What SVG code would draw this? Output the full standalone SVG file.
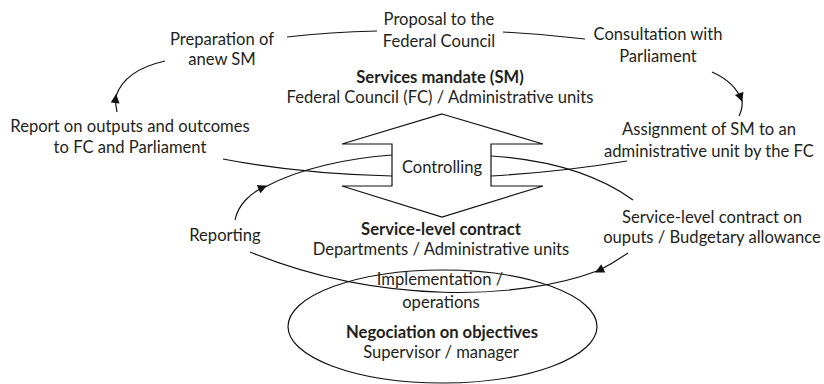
<svg xmlns="http://www.w3.org/2000/svg" width="824" height="384" viewBox="0 0 824 384">
<style>
text{font-family:Lato,"Open Sans",sans-serif;font-size:16.6px;fill:#231f20;text-anchor:middle}
.b{font-weight:bold}
.c{fill:none;stroke:#111;stroke-width:1.2}
</style>
<defs>
<marker id="ah" viewBox="0 0 10 10" refX="9" refY="5" markerWidth="10" markerHeight="9" markerUnits="userSpaceOnUse" orient="auto">
<path d="M0,0 L10,5 L0,10 z" fill="#111"/>
</marker>
</defs>
<rect width="824" height="384" fill="#fff"/>
<g id="connectors">
<path class="c" d="M287,37 Q330,32 377,31"/>
<path class="c" d="M503,32 Q545,34 585,39"/>
<path class="c" d="M712,72 Q735,82 742,101" marker-end="url(#ah)"/>
<path class="c" d="M742,100 Q743,108 739,116"/>
<path class="c" d="M117,112 Q115,104 116,95" marker-end="url(#ah)"/>
<path class="c" d="M116,96 Q125,70 165,61"/>
<path class="c" d="M223,159 Q300,174 392,176"/>
<path class="c" d="M235,220 C238,205 250,193 266,186" marker-end="url(#ah)"/>
<path class="c" d="M265,187 C300,168 350,158 392,155"/>
<path class="c" d="M491,156 Q580,162 633,200"/>
<path class="c" d="M491,176 Q560,172 627,161"/>
<path class="c" d="M628,253 Q612,264 596,272" marker-end="url(#ah)"/>
<path class="c" d="M597,271 C520,300 380,305 250,252"/>
</g>
<g id="controlling">
<polygon class="c" points="442,114 543,144 491,144 491,186 543,186 442,217 342,186 392,186 392,144 342,144"/>
<text x="442" y="173">Controlling</text>
</g>
<g id="negociation">
<ellipse class="c" cx="442.5" cy="326.5" rx="154.5" ry="56.5"/>
<text x="440" y="285">Implementation /</text>
<text x="441" y="308">operations</text>
<text class="b" x="442" y="338">Negociation on objectives</text>
<text x="441" y="358">Supervisor / manager</text>
</g>
<g id="proposal"><text x="439" y="25">Proposal to the</text><text x="439" y="47">Federal Council</text></g>
<g id="preparation"><text x="222" y="45">Preparation of</text><text x="222" y="65">anew SM</text></g>
<g id="consultation"><text x="658" y="40">Consultation with</text><text x="658" y="62">Parliament</text></g>
<g id="services-mandate"><text class="b" x="440" y="83">Services mandate (SM)</text><text x="440" y="103">Federal Council (FC) / Administrative units</text></g>
<g id="report"><text x="130" y="132">Report on outputs and outcomes</text><text x="130" y="153">to FC and Parliament</text></g>
<g id="assignment"><text x="709" y="135">Assignment of SM to an</text><text x="709" y="157">administrative unit by the FC</text></g>
<g id="reporting"><text x="225" y="241">Reporting</text></g>
<g id="slc"><text class="b" x="441" y="235">Service-level contract</text><text x="441" y="255">Departments / Administrative units</text></g>
<g id="slc-outputs"><text x="712" y="223">Service-level contract on</text><text x="712" y="243">ouputs / Budgetary allowance</text></g>
</svg>
